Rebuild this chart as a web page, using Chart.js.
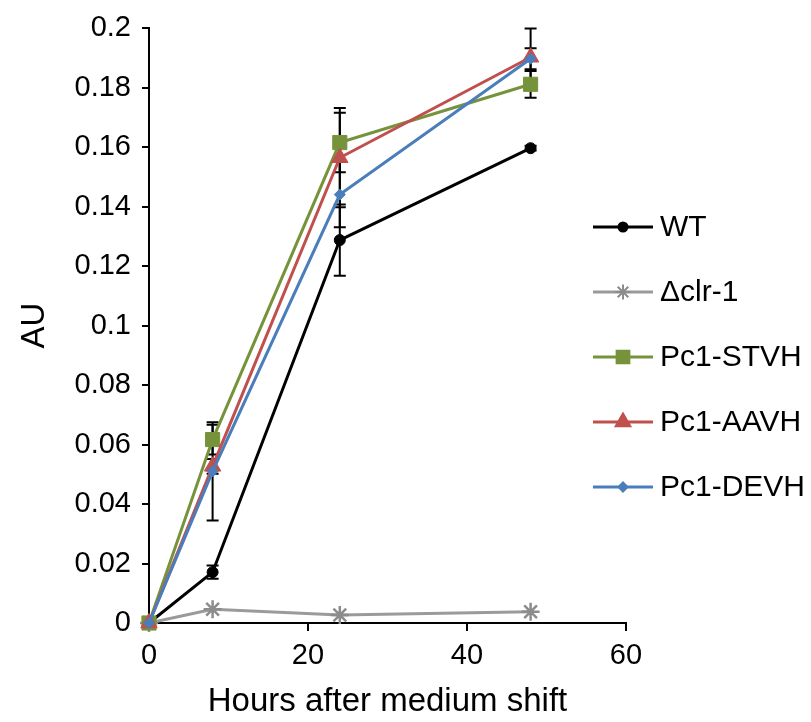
<!DOCTYPE html>
<html>
<head>
<meta charset="utf-8">
<script src="https://cdn.jsdelivr.net/npm/chart.js@4"></script>
<style>
  html, body { margin: 0; padding: 0; background: #fff; }
  #wrap { width: 811px; height: 722px; }
</style>
</head>
<body>
<div id="wrap"><canvas id="grafico" width="811" height="722"></canvas></div>
<script>
// valores
const horas = [0, 8, 24, 48];
const legendas = ['WT', '\u0394clr-1', 'Pc1-STVH', 'Pc1-AAVH', 'Pc1-DEVH'];
const wt      = [0, 0.0171, 0.1288, 0.1597];
const wtErr   = [0, 0.0022, 0.0120, 0.0008];
const clr     = [0, 0.0046, 0.0027, 0.0038];
const clrErr  = [0, 0, 0, 0];
const stvh    = [0, 0.0617, 0.1616, 0.1812];
const stvhErr = [0, 0.0050, 0.0100, 0.0045];
const aavh    = [0, 0.0527, 0.1565, 0.1903];
const aavhErr = [0, 0.0025, 0.0167, 0.0097];
const devh    = [0, 0.0510, 0.1441, 0.1898];
const devhErr = [0, 0.0165, 0.0110, 0.0035];
const xTicks = [0, 20, 40, 60];
const yTicks = [0, 0.02, 0.04, 0.06, 0.08, 0.1, 0.12, 0.14, 0.16, 0.18, 0.2];

const FONTE = "'Liberation Sans', Arial, sans-serif";

function pontos(ys) { return horas.map((h, i) => ({ x: h, y: ys[i] })); }

const series = [
  { nome: legendas[0], ys: wt,   err: wtErr,   cor: '#000000', estilo: 'circle',   raio: 5.5, leg: 4.5, ordem: 5 },
  { nome: legendas[1], ys: clr,  err: clrErr,  cor: '#8c8c8c', estilo: 'star',     raio: 9, leg: 7.5, ordem: 4, linha: '#9a9a9a' },
  { nome: legendas[2], ys: stvh, err: stvhErr, cor: '#76933c', estilo: 'rect',     raio: 10, leg: 9,  ordem: 3 },
  { nome: legendas[3], ys: aavh, err: aavhErr, cor: '#c0504d', estilo: 'triangle', raio: 9.5, leg: 8.5, ordem: 2 },
  { nome: legendas[4], ys: devh, err: devhErr, cor: '#4a7ebb', estilo: 'rectRot',  raio: 5.5, leg: 4.5, ordem: 1 }
];

// barras de erro (desenhadas antes das linhas)
const barrasErro = {
  id: 'barrasErro',
  beforeDatasetsDraw(chart) {
    const ctx = chart.ctx, xs = chart.scales.x, ys = chart.scales.y;
    ctx.save();
    ctx.strokeStyle = '#000';
    ctx.lineWidth = 2;
    series.forEach(s => {
      s.ys.forEach((v, i) => {
        const e = s.err[i];
        if (!e) return;
        const px = xs.getPixelForValue(horas[i]);
        const top = ys.getPixelForValue(v + e);
        const bot = ys.getPixelForValue(v - e);
        ctx.beginPath();
        ctx.moveTo(px, top); ctx.lineTo(px, bot);
        ctx.moveTo(px - 6, top); ctx.lineTo(px + 6, top);
        ctx.moveTo(px - 6, bot); ctx.lineTo(px + 6, bot);
        ctx.stroke();
      });
    });
    ctx.restore();
  }
};

// legenda à direita, linha + marcador
const legendaLateral = {
  id: 'legendaLateral',
  afterDraw(chart) {
    const ctx = chart.ctx;
    ctx.save();
    series.forEach((s, i) => {
      const y = 227 + i * 65;
      ctx.strokeStyle = s.linha || s.cor;
      ctx.lineWidth = 3;
      ctx.beginPath(); ctx.moveTo(593, y); ctx.lineTo(653, y); ctx.stroke();
      ctx.fillStyle = s.cor;
      ctx.strokeStyle = s.cor;
      ctx.lineWidth = 2;
      Chart.helpers.drawPoint(ctx, { pointStyle: s.estilo, radius: s.leg, rotation: 0, borderWidth: 2 }, 623, y);
      ctx.fillStyle = '#000';
      ctx.font = '30px ' + FONTE;
      ctx.textBaseline = 'middle';
      ctx.textAlign = 'left';
      ctx.fillText(s.nome, 660, y + 1);
    });
    ctx.restore();
  }
};

new Chart(document.getElementById('grafico').getContext('2d'), {
  type: 'scatter',
  data: {
    datasets: series.map(s => ({
      label: s.nome,
      data: pontos(s.ys),
      showLine: true,
      borderColor: s.linha || s.cor,
      borderWidth: 3,
      pointStyle: s.estilo,
      pointRadius: s.raio,
      pointBackgroundColor: s.cor,
      pointBorderColor: s.cor,
      pointBorderWidth: s.estilo === 'star' ? 2.5 : 1,
      order: s.ordem,
      clip: false
    }))
  },
  options: {
    responsive: false,
    animation: false,
    events: [],
    layout: { padding: { top: 23, right: 185, left: 0, bottom: 0 } },
    plugins: { legend: { display: false }, tooltip: { enabled: false } },
    scales: {
      x: {
        type: 'linear', min: 0, max: 60,
        afterBuildTicks: s => { s.ticks = xTicks.map(v => ({ value: v })); },
        afterFit: s => { s.height = 99; },
        grid: { display: true, drawOnChartArea: false, drawTicks: true, tickLength: 8, color: '#000', lineWidth: 2 },
        border: { display: true, color: '#000', width: 2 },
        ticks: { color: '#000', font: { family: FONTE, size: 29 }, padding: 8, maxRotation: 0 },
        title: { display: true, text: 'Hours after medium shift', color: '#000', font: { family: FONTE, size: 33 }, padding: { top: 0, bottom: 0 } }
      },
      y: {
        type: 'linear', min: 0, max: 0.2,
        afterBuildTicks: s => { s.ticks = yTicks.map(v => ({ value: v })); },
        afterFit: s => { s.width = 149; },
        grid: { display: true, drawOnChartArea: false, drawTicks: true, tickLength: 7, color: '#000', lineWidth: 2 },
        border: { display: true, color: '#000', width: 2 },
        ticks: { color: '#000', font: { family: FONTE, size: 29 }, padding: 11, callback: v => String(+v.toFixed(2)) },
        title: { display: true, text: 'AU', color: '#000', font: { family: FONTE, size: 33 }, padding: { top: 15, bottom: 0 } }
      }
    }
  },
  plugins: [barrasErro, legendaLateral]
});
</script>
</body>
</html>
